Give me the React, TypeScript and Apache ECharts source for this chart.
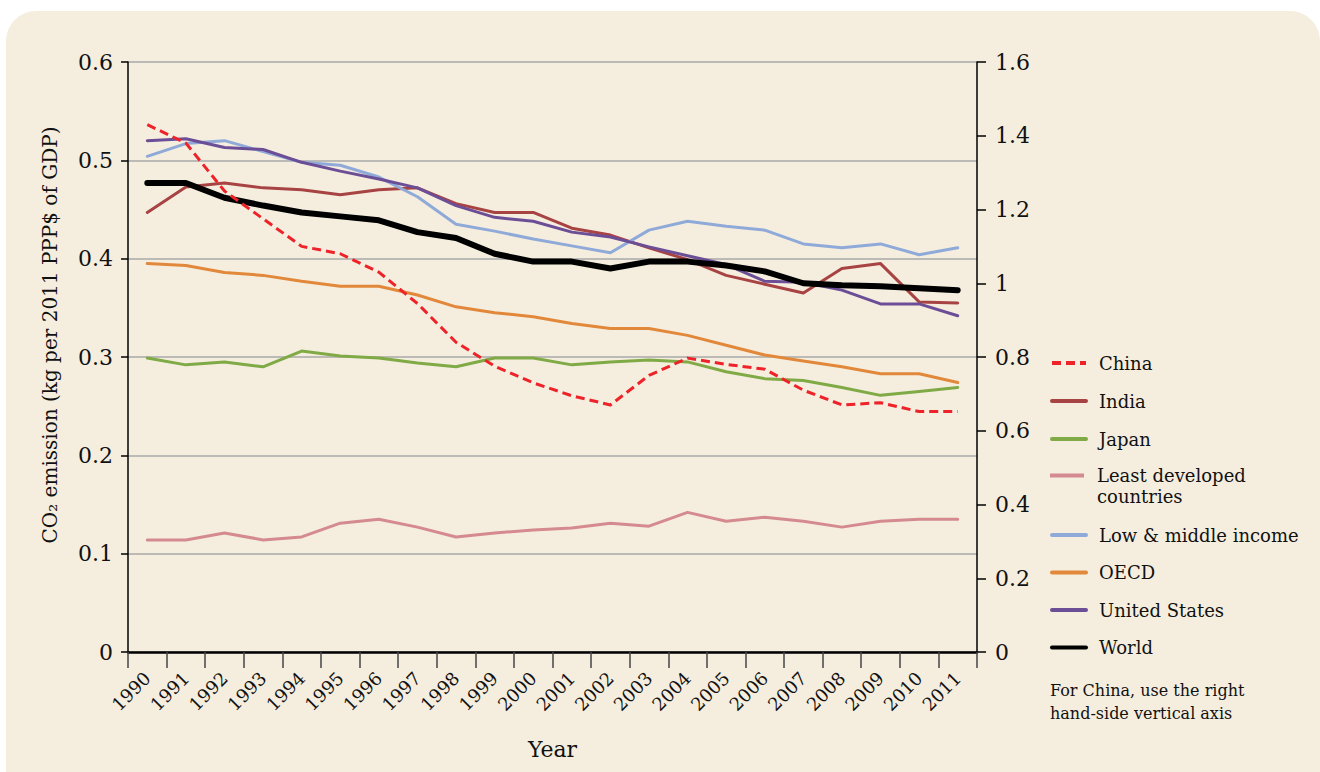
import React, { useEffect, useRef } from "react";
import * as echarts from "echarts";

const years = ["1990","1991","1992","1993","1994","1995","1996","1997","1998","1999","2000","2001","2002","2003","2004","2005","2006","2007","2008","2009","2010","2011"];

const china = [1.43, 1.38, 1.25, 1.175, 1.10, 1.08, 1.03, 0.945, 0.84, 0.775, 0.73, 0.695, 0.67, 0.75, 0.797, 0.78, 0.767, 0.71, 0.67, 0.676, 0.652, 0.652];
const india = [0.447, 0.473, 0.477, 0.472, 0.470, 0.465, 0.470, 0.472, 0.456, 0.447, 0.447, 0.431, 0.424, 0.411, 0.399, 0.383, 0.374, 0.365, 0.390, 0.395, 0.356, 0.355];
const japan = [0.299, 0.292, 0.295, 0.290, 0.306, 0.301, 0.299, 0.294, 0.290, 0.299, 0.299, 0.292, 0.295, 0.297, 0.295, 0.285, 0.278, 0.276, 0.269, 0.261, 0.265, 0.269];
const leastDeveloped = [0.114, 0.114, 0.121, 0.114, 0.117, 0.131, 0.135, 0.127, 0.117, 0.121, 0.124, 0.126, 0.131, 0.128, 0.142, 0.133, 0.137, 0.133, 0.127, 0.133, 0.135, 0.135];
const lowMiddle = [0.504, 0.517, 0.520, 0.509, 0.498, 0.495, 0.483, 0.463, 0.435, 0.428, 0.420, 0.413, 0.406, 0.429, 0.438, 0.433, 0.429, 0.415, 0.411, 0.415, 0.404, 0.411];
const oecd = [0.395, 0.393, 0.386, 0.383, 0.377, 0.372, 0.372, 0.363, 0.351, 0.345, 0.341, 0.334, 0.329, 0.329, 0.322, 0.312, 0.302, 0.296, 0.290, 0.283, 0.283, 0.274];
const unitedStates = [0.520, 0.522, 0.513, 0.511, 0.498, 0.489, 0.481, 0.472, 0.454, 0.442, 0.438, 0.427, 0.422, 0.412, 0.403, 0.394, 0.377, 0.376, 0.368, 0.354, 0.354, 0.342];
const world = [0.477, 0.477, 0.462, 0.454, 0.447, 0.443, 0.439, 0.427, 0.421, 0.405, 0.397, 0.397, 0.390, 0.397, 0.397, 0.393, 0.387, 0.375, 0.373, 0.372, 0.370, 0.368];

const FONT = "'DejaVu Serif', 'Liberation Serif', serif";

export default function App() {
  const ref = useRef<HTMLDivElement>(null);

  useEffect(() => {
    if (!ref.current) return;
    const chart = echarts.init(ref.current, undefined, { renderer: "svg" });

    const line = (name: string, data: number[], color: string, width: number, extra: any = {}) => ({
      name,
      type: "line",
      data,
      color,
      symbol: "none",
      lineStyle: { color, width, cap: "round", join: "round", ...(extra.lineStyle || {}) },
      yAxisIndex: extra.yAxisIndex || 0,
      z: extra.z || 2,
    });

    const legendText = { fontFamily: FONT, fontSize: 18, color: "#111", lineHeight: 20, padding: [0, 0, 0, 8] };

    const option: any = {
      animation: false,
      backgroundColor: "transparent",
      graphic: [
        {
          type: "rect",
          z: -10,
          silent: true,
          shape: { x: 6, y: 11, width: 1314, height: 800, r: 30 },
          style: { fill: "#F5EEDF" },
        },
        {
          type: "text",
          left: 1050,
          top: 679,
          style: {
            text: "For China, use the right\nhand-side vertical axis",
            font: "16px " + FONT,
            lineHeight: 23,
            fill: "#111",
          },
        },
      ],
      grid: { left: 128, right: 343, top: 62, bottom: 120, containLabel: false, outerBoundsMode: "none" },
      legend: [
        {
          orient: "vertical",
          left: 1050,
          top: 353,
          padding: 0,
          itemWidth: 34,
          itemHeight: 14,
          itemGap: 18,
          data: ["China", "India", "Japan"],
          lineStyle: { width: 4 },
          itemStyle: { opacity: 0 },
          textStyle: legendText,
        },
        {
          orient: "vertical",
          left: 1050,
          top: 465,
          padding: 0,
          itemWidth: 34,
          itemHeight: 40,
          itemGap: 0,
          data: [
            {
              name: "Least developed countries",
              icon: "path://M0,0L0,0M0,7.5L34,7.5L34,11.5L0,11.5ZM0,40L0,40",
              itemStyle: { borderWidth: 0 },
            },
          ],
          formatter: () => "Least developed\ncountries",
          textStyle: { ...legendText, lineHeight: 21 },
        },
        {
          orient: "vertical",
          left: 1050,
          top: 525,
          padding: 0,
          itemWidth: 34,
          itemHeight: 14,
          itemGap: 17.5,
          data: ["Low & middle income", "OECD", "United States", "World"],
          lineStyle: { width: 4 },
          itemStyle: { opacity: 0 },
          textStyle: legendText,
        },
      ],
      xAxis: {
        type: "category",
        data: years,
        boundaryGap: true,
        name: "Year",
        nameLocation: "middle",
        nameGap: 86,
        nameTextStyle: { fontFamily: FONT, fontSize: 22, color: "#111" },
        axisLine: { lineStyle: { color: "#000", width: 2.5 } },
        axisTick: { show: true, length: 16, lineStyle: { color: "#444", width: 1.5 } },
        axisLabel: { rotate: 45, margin: 23, fontFamily: FONT, fontSize: 18, color: "#111", interval: 0 },
        splitLine: { show: false },
      },
      yAxis: [
        {
          type: "value",
          min: 0,
          max: 0.6,
          interval: 0.1,
          position: "left",
          name: "CO₂ emission (kg per 2011 PPP$ of GDP)",
          nameLocation: "middle",
          nameGap: 68,
          nameTextStyle: { fontFamily: FONT, fontSize: 20, color: "#111", padding: [0, 0, 0, 44] },
          axisLine: { show: true, lineStyle: { color: "#000", width: 1.5 } },
          axisTick: { show: true, length: 7, lineStyle: { color: "#000", width: 1.5 } },
          axisLabel: { margin: 15, fontFamily: FONT, fontSize: 22, color: "#111" },
          splitLine: { show: true, lineStyle: { color: "#A8A8A8", width: 1.5 } },
        },
        {
          type: "value",
          min: 0,
          max: 1.6,
          interval: 0.2,
          position: "right",
          axisLine: { show: true, lineStyle: { color: "#000", width: 1.5 } },
          axisTick: { show: true, length: 9, lineStyle: { color: "#000", width: 1.5 } },
          axisLabel: { margin: 18, fontFamily: FONT, fontSize: 22, color: "#111" },
          splitLine: { show: false },
        },
      ],
      series: [
        line("India", india, "#A84343", 3),
        line("Japan", japan, "#7FAA45", 3),
        line("Least developed countries", leastDeveloped, "#D48A8F", 3),
        line("Low & middle income", lowMiddle, "#8FAAD8", 3),
        line("OECD", oecd, "#E2883A", 3),
        line("United States", unitedStates, "#6C4E97", 3),
        line("World", world, "#000000", 6, { z: 3 }),
        line("China", china, "#EE2229", 3, { yAxisIndex: 1, z: 4, lineStyle: { type: [9, 5], cap: "butt" } }),
      ],
    };

    chart.setOption(option);
    return () => chart.dispose();
  }, []);

  return (
    <div style={{ position: "fixed", left: 0, top: 0, width: 1320, height: 772, background: "#fff" }}>
      <div ref={ref} style={{ width: 1320, height: 772 }} />
    </div>
  );
}
